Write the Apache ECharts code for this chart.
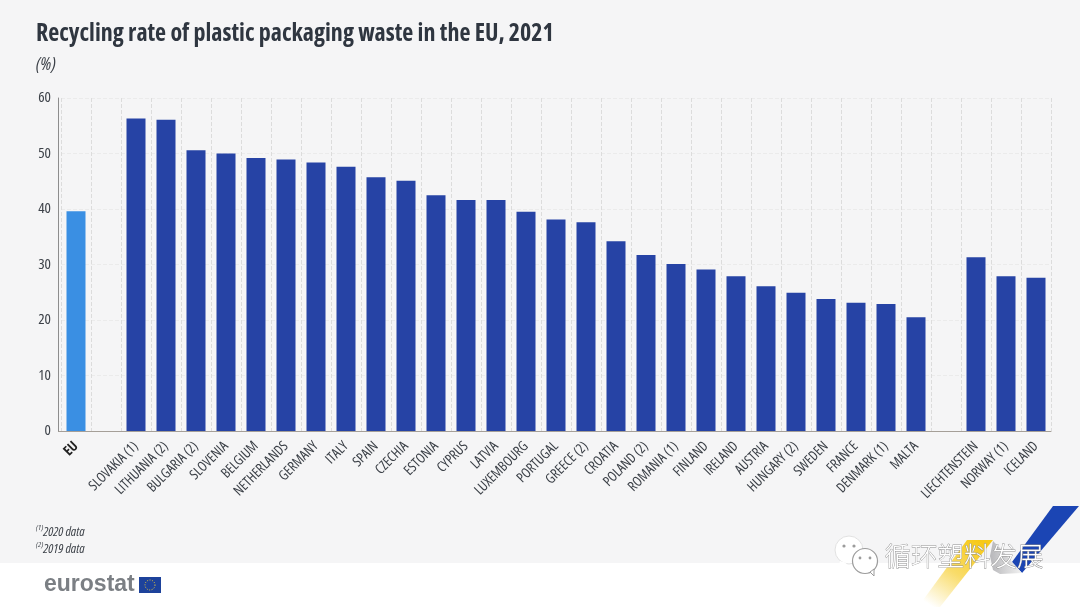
<!DOCTYPE html>
<html>
<head>
<meta charset="utf-8">
<style>html,body{margin:0;padding:0;background:#fff}#main{width:1080px;height:607px}</style>
<script src="https://cdn.jsdelivr.net/npm/echarts@6/dist/echarts.min.js"></script>
</head>
<body>
<div id="main"></div>
<script>
var countries = ['EU', '', 'SLOVAKIA (1)', 'LITHUANIA (2)', 'BULGARIA (2)', 'SLOVENIA', 'BELGIUM', 'NETHERLANDS', 'GERMANY',
    'ITALY', 'SPAIN', 'CZECHIA', 'ESTONIA', 'CYPRUS', 'LATVIA', 'LUXEMBOURG', 'PORTUGAL', 'GREECE (2)', 'CROATIA',
    'POLAND (2)', 'ROMANIA (1)', 'FINLAND', 'IRELAND', 'AUSTRIA', 'HUNGARY (2)', 'SWEDEN', 'FRANCE', 'DENMARK (1)',
    'MALTA', ' ', 'LIECHTENSTEIN', 'NORWAY (1)', 'ICELAND'];
var rates = [39.6, null, 56.3, 56.1, 50.6, 50.0, 49.2, 48.9, 48.4, 47.6, 45.7, 45.1, 42.5, 41.6, 41.6, 39.5, 38.1, 37.6,
    34.2, 31.7, 30.1, 29.1, 27.9, 26.1, 24.9, 23.8, 23.1, 22.9, 20.5, null, 31.3, 27.9, 27.6];
var yTicks = [0, 10, 20, 30, 40, 50, 60];

// fontWeight goes straight into the canvas font string, so the stretch keyword can ride along
var cond = '"Open Sans", sans-serif';
var chart = echarts.init(document.getElementById('main'));

chart.setOption({
    backgroundColor: '#f5f5f6',
    animation: false,
    title: {
        text: 'Recycling rate of plastic packaging waste in the EU, 2021',
        left: 31, top: 17,
        textStyle: { fontFamily: cond, fontSize: 24, fontWeight: 'bold condensed', color: '#2f3640' }
    },
    grid: { left: 61, right: 29, top: 98, bottom: 176 },
    xAxis: {
        type: 'category',
        data: countries.map(function (c) {
            return c === 'EU' ? { value: c, textStyle: { fontWeight: 'bold condensed', color: '#222' } } : c;
        }),
        axisTick: { show: false },
        axisLine: { lineStyle: { color: '#a59f98', width: 1 } },
        axisLabel: {
            interval: 0, rotate: 45, margin: 13,
            fontFamily: cond, fontSize: 14, fontWeight: 'normal condensed', color: '#3c4148'
        },
        splitLine: { show: true, lineStyle: { color: '#dcdcdc', type: 'dashed', width: 1 } }
    },
    yAxis: {
        type: 'value',
        min: yTicks[0], max: yTicks[yTicks.length - 1], interval: 10,
        offset: 3,
        axisLine: { show: true, lineStyle: { color: '#8d8d8d', width: 1 } },
        axisTick: { show: false },
        axisLabel: { margin: 7, fontFamily: cond, fontSize: 15, fontWeight: 'normal condensed', color: '#3c4148' },
        splitLine: { lineStyle: { color: '#ebebeb', type: 'dashed', width: 1 } }
    },
    series: [{
        type: 'bar',
        barWidth: 19,
        z: 3,
        data: rates.map(function (v, i) {
            return countries[i] === 'EU' ? { value: v, itemStyle: { color: '#3a8fe3' } } : v;
        }),
        itemStyle: { color: '#2643a5' }
    }],
    graphic: [
        { type: 'rect', z: -1, shape: { x: 0, y: 563, width: 1080, height: 44 }, style: { fill: '#ffffff' } },
        { type: 'text', left: 36, top: 56, style: { text: '(%)', font: 'italic normal condensed 18px ' + cond, fill: '#3c4148' } },
        { type: 'line', shape: { x1: 58, y1: 431.5, x2: 61, y2: 431.5 }, style: { stroke: '#a59f98', lineWidth: 1 } },
        {
            type: 'text', left: 36, top: 524,
            style: {
                text: '{s|(1)}{n|2020 data}\n{s|(2)}{n|2019 data}',
                rich: {
                    s: { font: 'italic normal condensed 8px ' + cond, fill: '#3c4148', verticalAlign: 'top', lineHeight: 17 },
                    n: { font: 'italic normal condensed 13px ' + cond, fill: '#3c4148', lineHeight: 17 }
                }
            }
        },
        // eurostat logo
        { type: 'text', left: 44, top: 573, style: { text: 'eurostat', font: 'bold 23px "Liberation Sans", sans-serif', fill: '#7b7f84' } },
        { type: 'rect', shape: { x: 139, y: 577, width: 22, height: 16 }, style: { fill: '#1d429b' } },
        { type: 'circle', shape: { cx: 150, cy: 585, r: 5 }, style: { fill: 'none', stroke: '#e8c93a', lineWidth: 1, lineDash: [1, 1.5] } },
        // corner stripes
        { type: 'polygon', shape: { points: [[1053, 506], [1079, 506], [1022, 573], [1012, 562]] }, style: { fill: '#1b45b4' } },
        { type: 'polygon', shape: { points: [[967, 540], [993, 540], [940, 607], [918, 607]] },
            style: { fill: new echarts.graphic.LinearGradient(0.8, 0, 0.2, 1, [
                { offset: 0, color: '#f7c916' }, { offset: 0.5, color: '#f9dc6a' }, { offset: 1, color: '#ffffff' }
            ]) } },
        { type: 'polygon', shape: { points: [[993, 541], [1000, 548], [1012, 562], [1022, 573], [1000, 574], [993, 570], [990, 556]] },
            style: { fill: new echarts.graphic.LinearGradient(1, 0, 0, 0, [
                { offset: 0, color: '#f2f2f2' }, { offset: 1, color: '#b7b7ba' }
            ]) } },
        // watermark
        { type: 'circle', shape: { cx: 849, cy: 550, r: 14 }, style: { fill: '#ffffff', stroke: '#e2e2e2', lineWidth: 1 } },
        { type: 'circle', shape: { cx: 865, cy: 561, r: 12.5 }, style: { fill: '#ffffff', stroke: '#9c9c9c', lineWidth: 1.2 } },
        { type: 'polygon', shape: { points: [[840, 561], [838, 569], [847, 563]] }, style: { fill: '#ffffff' } },
        { type: 'polygon', shape: { points: [[870, 572], [874, 576], [874, 569]] }, style: { fill: '#ffffff', stroke: '#9c9c9c', lineWidth: 1 } },
        { type: 'circle', shape: { cx: 844, cy: 546, r: 1.6 }, style: { fill: '#9c9c9c' } },
        { type: 'circle', shape: { cx: 854, cy: 546, r: 1.6 }, style: { fill: '#9c9c9c' } },
        { type: 'circle', shape: { cx: 860, cy: 558, r: 1.4 }, style: { fill: '#9c9c9c' } },
        { type: 'circle', shape: { cx: 870, cy: 558, r: 1.4 }, style: { fill: '#9c9c9c' } },
        {
            type: 'text', left: 884, top: 542,
            style: {
                text: '循环塑料发展',
                font: '300 26.5px "Noto Sans CJK SC"',
                fill: '#ffffff', stroke: '#8e8e8e', lineWidth: 0.8
            }
        }
    ]
});
</script>
</body>
</html>
